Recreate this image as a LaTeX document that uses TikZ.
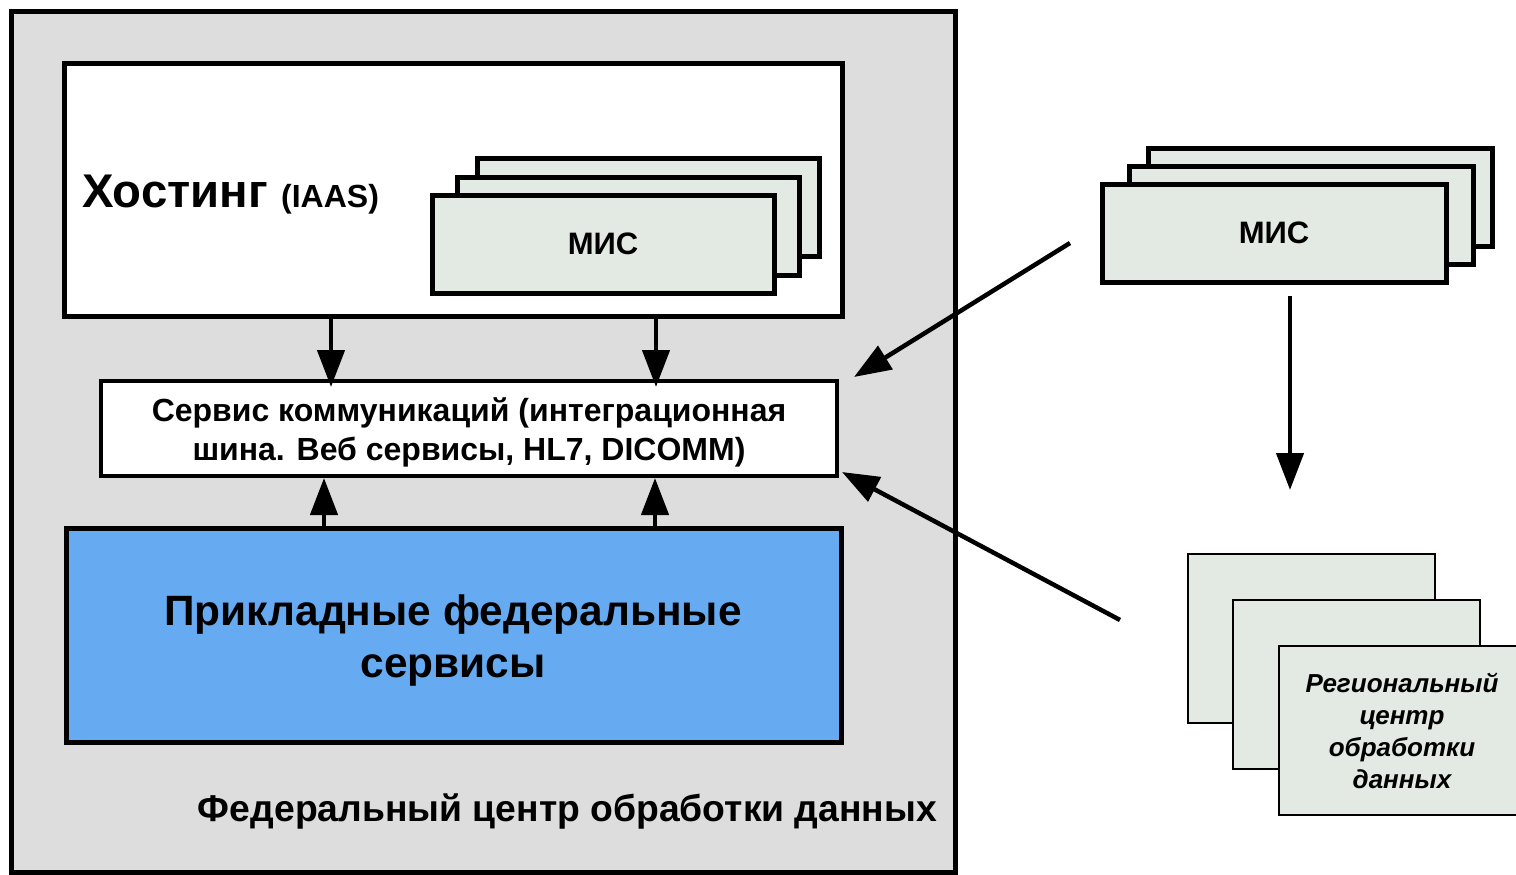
\documentclass[tikz,border=0pt]{standalone}
\usepackage{fontspec}
\setmainfont{Liberation Sans}
\usetikzlibrary{arrows.meta,calc}
\definecolor{fedgrey}{HTML}{DDDDDD}
\definecolor{misfill}{HTML}{E3E9E3}
\definecolor{appblue}{HTML}{66AAF2}
\newcommand{\fsz}[2]{\fontsize{#1}{#2}\selectfont}
\begin{document}
\begin{tikzpicture}[x=1pt,y=-1pt,
  box/.style={draw=black, rectangle, inner sep=0pt, outer sep=0pt, anchor=north west},
  fedbox/.style={box, fill=fedgrey, line width=5pt},
  hostbox/.style={box, fill=white, line width=5pt},
  misbox/.style={box, fill=misfill, line width=5pt, minimum width=342pt, minimum height=98pt, font={\bfseries\fsz{31}{36}}},
  svcbox/.style={box, fill=white, line width=4pt},
  appbox/.style={box, fill=appblue, line width=5pt},
  regbox/.style={box, fill=misfill, line width=1.8pt, minimum width=247pt, minimum height=169pt},
  lbl/.style={inner sep=0pt, outer sep=0pt},
  arr/.style={line width=4.5pt, -{Triangle[length=37pt,width=27pt]}}
]
\useasboundingbox (0,0) rectangle (1516,875);

% federal centre
\node[fedbox, minimum width=944pt, minimum height=860pt] (fed) at (11,12) {};
\node[lbl, anchor=base east, font={\bfseries\fsz{37.3}{40}}] (fedlbl) at (937,821) {Федеральный центр обработки данных};

% hosting
\node[hostbox, minimum width=778pt, minimum height=252pt] (host) at (64,64) {};
\node[lbl, anchor=base west, font=\bfseries] (hostlbl) at (82,207) {\fsz{47.3}{50}Хостинг \fsz{32}{34}(IAAS)};
\node[misbox] (hmis3) at (477,158) {};
\node[misbox] (hmis2) at (457,177) {};
\node[misbox] (hmis1) at (432,195) {МИС};

% service bus
\node[svcbox, minimum width=736pt, minimum height=95pt] (svc) at (101,381) {};
\node[lbl, align=center, font={\bfseries\fsz{32}{39}}] (svctxt) at (469,432)
  {Сервис коммуникаций (интеграционная\\шина. Веб сервисы, HL7, DICOMM)};

% applied federal services
\node[appbox, minimum width=775pt, minimum height=214pt] (app) at (66,528) {};
\node[lbl, align=center, font={\bfseries\fsz{42.4}{52}}] (apptxt) at (453,641)
  {Прикладные федеральные\\сервисы};

% external MIS
\node[misbox, minimum width=344pt] (rmis3) at (1148,148) {};
\node[misbox, minimum width=344pt] (rmis2) at (1129,166) {};
\node[misbox, minimum width=344pt] (rmis1) at (1102,184) {МИС};

% regional centres
\node[regbox] (reg3) at (1188,554) {};
\node[regbox] (reg2) at (1233,600) {};
\node[regbox, line width=2.2pt] (reg1) at (1279,646) {};
\node[lbl, align=center, font={\bfseries\itshape\fsz{26}{32}}] (reglbl) at (1402,731)
  {Региональный\\центр\\обработки\\данных};

% connectors
\coordinate (cA) at (331,0);
\coordinate (cB) at (656,0);
\coordinate (cC) at (324,0);
\coordinate (cD) at (655,0);
\coordinate (cE) at (1290,0);
\coordinate (m1) at (1070,243);
\coordinate (m2) at (1120,620);

\draw[arr] (host.south -| cA) -- ($(svc.north -| cA)+(0,6)$);
\draw[arr] (host.south -| cB) -- ($(svc.north -| cB)+(0,6)$);
\draw[arr] (app.north -| cC) -- ($(svc.south -| cC)+(0,2)$);
\draw[arr] (app.north -| cD) -- ($(svc.south -| cD)+(0,2)$);
\draw[arr] (m1) -- ($(svc.north east)+(17,-4)$);
\draw[arr] (m2) -- ($(svc.south east)+(5,-4)$);
\draw[arr] ($(rmis1.south -| cE)+(0,14)$) -- ($(reg3.north -| cE)+(0,-64)$);
\end{tikzpicture}
\end{document}
